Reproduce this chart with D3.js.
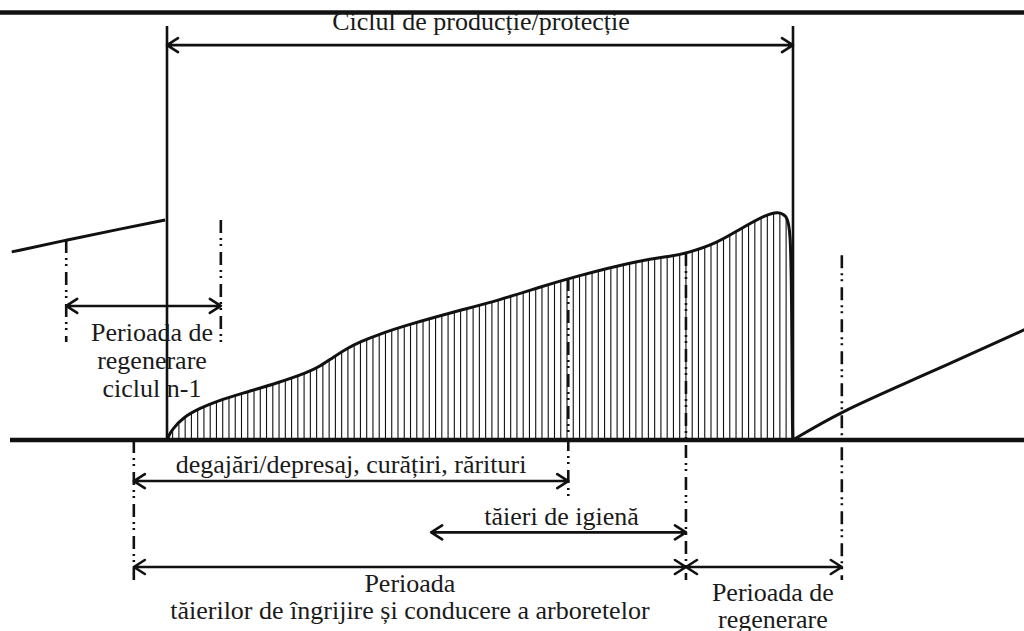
<!DOCTYPE html>
<html lang="ro">
<head>
    <meta charset="UTF-8">
    <title>Ciclul de producție/protecție</title>
    <script src="https://d3js.org/d3.v7.min.js"></script>
    <style>
        html, body {
            margin: 0;
            padding: 0;
            background: #fff;
        }
    </style>
</head>
<body>
<svg id="chart" width="1024" height="631"></svg>

<script>
    // curve of the current cycle: [time % of cycle, standing volume %]
    var cycleCurve = [
        [0, 0], [0.3, 2], [0.8, 4.5], [2.6, 10], [5.3, 14], [8, 17], [11.7, 20.2], [18.1, 25.4],
        [22.4, 29.6], [24.4, 32.2], [26.5, 36.2], [28.8, 40.2], [30.8, 43], [34, 46.5],
        [38.3, 50.4], [45.7, 56.1], [53.2, 61.4], [59.6, 67.1], [64.9, 71.5], [75.6, 78.9],
        [80.8, 80.7], [83.1, 82], [87.9, 86.4], [91.5, 92.5], [95.8, 99], [97.6, 100.2],
        [99, 98.5], [99.6, 93], [99.8, 60], [99.9, 3], [100, 0], [100, 0]
    ]
    // end of previous cycle (n-1) and start of the next one
    var prevCurve = [[-24.8, 82.5], [-16.1, 87.7], [-7.5, 92.5], [-0.3, 96.5]]
    var nextCurve = [[100, 0], [107.5, 12.3], [119.2, 26.3], [137.5, 49]]

    // dash-dot guides: time, top value, bottom value
    var guideT = [-16.1, 8.6, -5.3, 64.1, 82.9, 107.8]
    var guideTop = [87.7, 96.5, 0, 71, 82, 81]
    var guideBottom = [43, 43, -61.4, -26.3, -61.4, -61.4]

    // periods drawn as double arrows
    var periodLines = [
        ['Ciclul de producție/protecție'],
        ['Perioada de', 'regenerare', 'ciclul n-1'],
        ['degajări/depresaj, curățiri, rărituri'],
        ['tăieri de igienă'],
        ['Perioada', 'tăierilor de îngrijire și conducere a arboretelor'],
        ['Perioada de', 'regenerare']
    ]
    var periodStart = [0, -16.1, -5.3, 42.2, -5.3, 82.9]
    var periodEnd = [100, 8.6, 64.1, 82.9, 82.9, 107.8]
    var periodLevel = [173.2, 58.8, -18, -40.5, -55.7, -55.7]

    // label placement relative to the arrow centre (px)
    var labelDx = [1, 8.5, 0, 3, 0, 9]
    var labelDy = [[-15], [35, 63, 91], [-8], [-7], [25, 52], [34, 61]]

    var ink = '#111'
    var svg = d3.select('#chart')

    var x = d3.scaleLinear().domain([0, 100]).range([167, 793])
    var y = d3.scaleLinear().domain([0, 100]).range([440, 212])

    var line = d3.line()
        .x(function (d) { return x(d[0]) })
        .y(function (d) { return y(d[1]) })
        .curve(d3.curveBasis)

    // hatching clipped to the area under the cycle curve
    var area = d3.area()
        .x(function (d) { return x(d[0]) })
        .y0(y(0))
        .y1(function (d) { return y(d[1]) })
        .curve(d3.curveBasis)

    svg.append('clipPath').attr('id', 'under')
        .append('path').attr('d', area(cycleCurve))

    svg.append('g').attr('clip-path', 'url(#under)')
        .selectAll('line').data(d3.range(0.9, 100, 1)).enter().append('line')
        .attr('x1', function (d) { return x(d) })
        .attr('x2', function (d) { return x(d) })
        .attr('y1', y(0)).attr('y2', y(102))
        .attr('stroke', ink).attr('stroke-width', 1.1)

    // guides
    svg.append('g').selectAll('line').data(guideT).enter().append('line')
        .attr('x1', function (d) { return x(d) })
        .attr('x2', function (d) { return x(d) })
        .attr('y1', function (d, i) { return y(guideTop[i]) })
        .attr('y2', function (d, i) { return y(guideBottom[i]) })
        .attr('stroke', ink).attr('stroke-width', 2.6)
        .attr('stroke-dasharray', '13,5,2,4,2,6')

    // curves
    svg.append('g').selectAll('path').data([cycleCurve, prevCurve, nextCurve]).enter().append('path')
        .attr('d', line)
        .attr('fill', 'none').attr('stroke', ink).attr('stroke-width', 3)

    // cycle limits
    svg.append('g').selectAll('line').data([0, 100]).enter().append('line')
        .attr('x1', function (d) { return x(d) })
        .attr('x2', function (d) { return x(d) })
        .attr('y1', 26).attr('y2', y(0))
        .attr('stroke', ink).attr('stroke-width', 2.6)

    // time axis and top rule
    svg.append('line').attr('x1', 10).attr('x2', 1024).attr('y1', y(0)).attr('y2', y(0))
        .attr('stroke', ink).attr('stroke-width', 4.5)
    svg.append('line').attr('x1', 0).attr('x2', 1024).attr('y1', 12.5).attr('y2', 12.5)
        .attr('stroke', ink).attr('stroke-width', 4.5)

    // double arrows
    var arrows = svg.append('g').attr('fill', 'none').attr('stroke', ink)
        .attr('stroke-width', 2.6).attr('stroke-linecap', 'round').attr('stroke-linejoin', 'round')

    periodStart.forEach(function (s, i) {
        var x0 = x(s), x1 = x(periodEnd[i]), yy = y(periodLevel[i])
        arrows.append('path').attr('d',
            'M' + x0 + ',' + yy + 'H' + x1 +
            'M' + (x0 + 11) + ',' + (yy - 7) + 'L' + x0 + ',' + yy + 'L' + (x0 + 11) + ',' + (yy + 7) +
            'M' + (x1 - 11) + ',' + (yy - 7) + 'L' + x1 + ',' + yy + 'L' + (x1 - 11) + ',' + (yy + 7))

        var cx = (x0 + x1) / 2 + labelDx[i]
        periodLines[i].forEach(function (txt, j) {
            svg.append('text')
                .attr('x', cx).attr('y', yy + labelDy[i][j])
                .attr('text-anchor', 'middle')
                .attr('font-family', "'Liberation Serif', 'Times New Roman', Times, serif")
                .attr('font-size', 26)
                .attr('fill', '#1a1a1a')
                .text(txt)
        })
    })
</script>
</body>
</html>
